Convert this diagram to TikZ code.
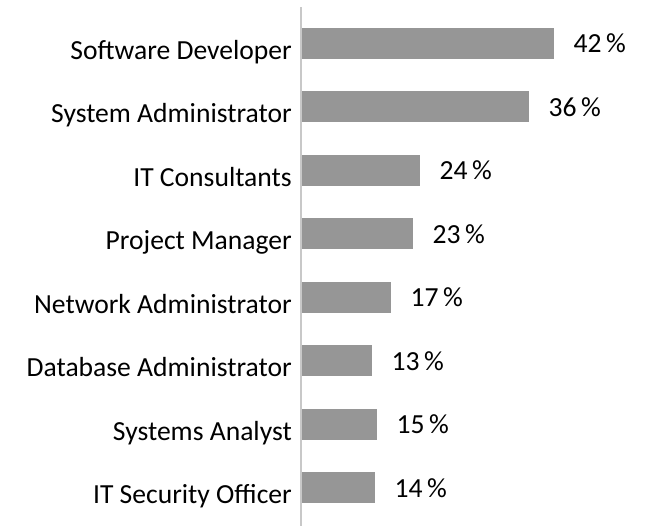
\documentclass[tikz,border=0pt]{standalone}
\usepackage{fontspec}
\setmainfont{Carlito}
\usepackage{xcolor}
\usetikzlibrary{positioning}
\definecolor{bargray}{RGB}{150,150,150}
\definecolor{axisgray}{RGB}{200,200,200}

\begin{document}
\begin{tikzpicture}[
    % GLOBAL CFG
    x=1pt, y=-1pt,
    font=\fontsize{27.6}{32}\selectfont,
    % Styles
    bar/.style={% For the gray bars
        rectangle,
        fill=bargray,
        inner sep=0pt,
        minimum height=31pt,
        anchor=west,
        },
    catlabel/.style={% For the job titles
        inner sep=0pt,
        },
    vallabel/.style={% For the percentages
        inner sep=0pt,
        },
    axisline/.style={% The vertical axis
        draw=axisgray,
        line width=1.5pt,
        },
    ]

%Start drawing the thing...
    \useasboundingbox (0,0) rectangle (649,526);

    % Axis
    \coordinate (axtop) at (301,7.5);
    \coordinate (axbot) at (301,526);
    \draw [axisline] (axtop) -- (axbot);

    % Bars with labels
    \foreach \i/\name/\val/\len in {
        1/Software Developer/42/252,
        2/System Administrator/36/227,
        3/IT Consultants/24/118,
        4/Project Manager/23/111,
        5/Network Administrator/17/89,
        6/Database Administrator/13/70,
        7/Systems Analyst/15/75,
        8/IT Security Officer/14/73}{
        \node [bar, minimum width=\len pt] (bar\i) at (302, 43.5+63.5*\i-63.5) {};
        \node [vallabel, right=19pt of bar\i] (val\i) {\val\,\%};
        \node [catlabel, left=10pt of bar\i.south west, anchor=base east] (cat\i) {\name};
    }
\end{tikzpicture}
\end{document}
